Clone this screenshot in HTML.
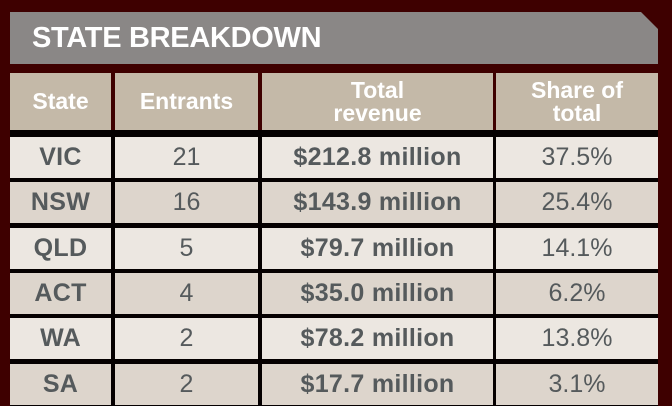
<!DOCTYPE html>
<html><head><meta charset="utf-8"><style>
body{margin:0;width:672px;height:418px;background:#fff;position:relative;overflow:hidden;font-family:"Liberation Sans",sans-serif}
#bg{position:absolute;left:0;top:0;width:672px;height:406px;background:#3e0000}
#title{position:absolute;left:10px;top:12px;width:648px;height:52px;background:#8a8786;clip-path:polygon(0 0,631px 0,648px 17px,648px 52px,0 52px);color:#fff;font-weight:bold;font-size:29px;line-height:52px;padding-left:22px;box-sizing:border-box;letter-spacing:-0.3px}
#tbl{position:absolute;left:10px;top:130px;width:648px;height:276px;background:#050000}
.c{position:absolute;display:flex;align-items:center;justify-content:center;text-align:center;box-sizing:border-box}
.h{background:#c4b9a8;color:#fff;font-size:23px;line-height:23px;font-weight:bold}
.d{color:#555a5c;font-size:25px}
.b{font-weight:bold;letter-spacing:0.3px}
</style></head><body>
<div id="bg"></div>
<div id="title">STATE BREAKDOWN</div>
<div id="tbl"></div>
<div id="cells"></div>
<script>
const states=["VIC","NSW","QLD","ACT","WA","SA"];
const entrants=["21","16","5","4","2","2"];
const revenue=["$212.8 million","$143.9 million","$79.7 million","$35.0 million","$78.2 million","$17.7 million"];
const share=["37.5%","25.4%","14.1%","6.2%","13.8%","3.1%"];
const headers=["State","Entrants","Total<br>revenue","Share of<br>total"];
const cols=[[10,101],[115,143],[262,231],[496,162]];
const root=document.getElementById('cells');
function cell(x,y,w,h,cls,html,bg,name){const e=document.createElement('div');e.className='c '+cls;e.style.left=x+'px';e.style.top=y+'px';e.style.width=w+'px';e.style.height=h+'px';if(bg)e.style.background=bg;e.innerHTML=html;


root.appendChild(e);}
headers.forEach((t,i)=>cell(cols[i][0],73,cols[i][1],57,'h',t,null,'header-'+i));
states.forEach((s,r)=>{const y=137+r*45.3;const bg=r%2?'#ddd5cc':'#ece7e1';
const vals=[s,entrants[r],revenue[r],share[r]];const bold=[1,0,1,0];
vals.forEach((v,i)=>cell(cols[i][0],y,cols[i][1],41,'d'+(bold[i]?' b':''),v,bg,'cell-'+s.toLowerCase()+'-'+i));});
</script>
</body></html>
